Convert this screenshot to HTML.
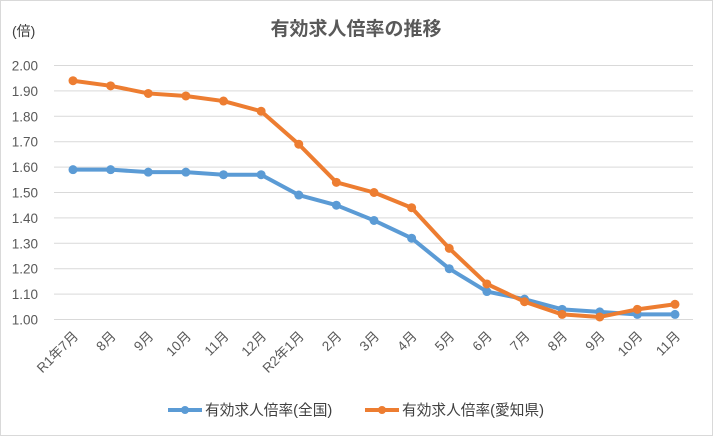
<!DOCTYPE html>
<html><head><meta charset="utf-8"><style>
html,body{margin:0;padding:0;background:#fff}
svg text{font-family:"Liberation Sans","Noto Sans CJK JP",sans-serif}
</style></head><body>
<svg width="713" height="436" xmlns="http://www.w3.org/2000/svg">
<rect x="0.5" y="0.5" width="712" height="435" fill="#fff" stroke="#d9d9d9"/>
<text x="356" y="35" text-anchor="middle" font-size="19" font-weight="bold" fill="#595959">有効求人倍率の推移</text>
<text x="12" y="36" font-size="14" fill="#404040">(倍)</text>
<g id="grid" stroke="#d9d9d9" stroke-width="1"></g>
<g id="ylab" font-size="13.5" fill="#595959" text-anchor="end"></g>
<g id="xlab" font-size="13.5" fill="#595959" text-anchor="end"></g>
<g id="series"></g>
<g fill="#404040">
<line x1="168" y1="410" x2="202" y2="410" stroke="#5b9bd5" stroke-width="4"/>
<circle cx="185" cy="410" r="4" fill="#5b9bd5"/>
<text x="205" y="415" font-size="14.7">有効求人倍率(全国)</text>
<line x1="365" y1="410" x2="399" y2="410" stroke="#ed7d31" stroke-width="4"/>
<circle cx="382" cy="410" r="4" fill="#ed7d31"/>
<text x="402" y="415" font-size="14.7">有効求人倍率(愛知県)</text>
</g>
</svg>
<script>
const ns="http://www.w3.org/2000/svg";
function el(t,a,p,txt){const e=document.createElementNS(ns,t);for(const k in a)e.setAttribute(k,a[k]);if(txt)e.textContent=txt;document.getElementById(p).appendChild(e);return e;}
const Y=v=>319.5-(v-1)*254;
for(let i=0;i<=10;i++){const v=1+i*0.1,y=Y(v);el('line',{x1:54,x2:693,y1:y,y2:y},'grid');el('text',{x:38,y:y+5},'ylab',v.toFixed(2));}
const labs=["R1年7月","8月","9月","10月","11月","12月","R2年1月","2月","3月","4月","5月","6月","7月","8月","9月","10月","11月"];
const X=i=>73+i*37.625;
labs.forEach((l,i)=>{el('text',{x:X(i)+6,y:337,transform:`rotate(-45 ${X(i)+6} 337)`},'xlab',l);});
const a=[1.59,1.59,1.58,1.58,1.57,1.57,1.49,1.45,1.39,1.32,1.20,1.11,1.08,1.04,1.03,1.02,1.02];
const b=[1.94,1.92,1.89,1.88,1.86,1.82,1.69,1.54,1.50,1.44,1.28,1.14,1.07,1.02,1.01,1.04,1.06];
[[a,"#5b9bd5"],[b,"#ed7d31"]].forEach(([d,c])=>{
el('polyline',{points:d.map((v,i)=>X(i)+","+Y(v)).join(" "),fill:"none",stroke:c,"stroke-width":4,"stroke-linejoin":"round"},'series');
d.forEach((v,i)=>el('circle',{cx:X(i),cy:Y(v),r:4.5,fill:c},'series'));});
</script>
</body></html>
